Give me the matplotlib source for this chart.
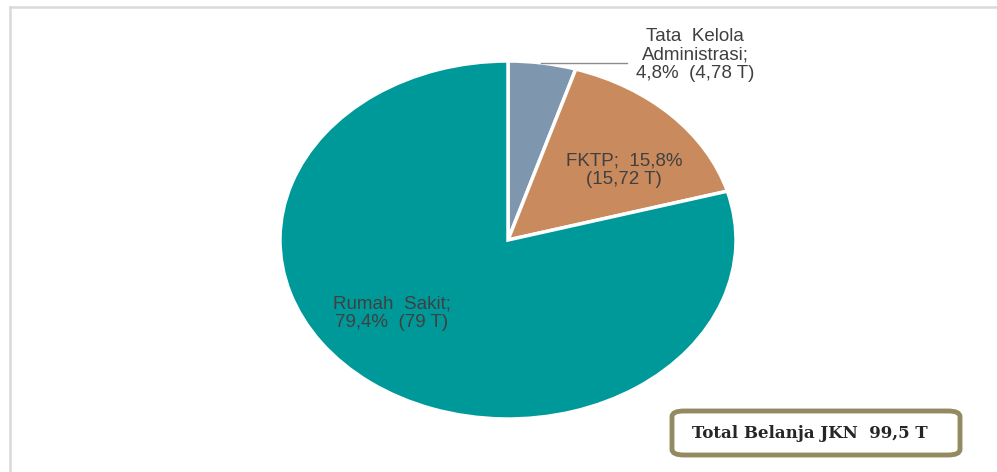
import matplotlib.pyplot as plt
from matplotlib.patches import FancyBboxPatch
from matplotlib.lines import Line2D

# Belanja JKN per kategori (triliun)
categories = ['Tata  Kelola\nAdministrasi;', 'FKTP;', 'Rumah  Sakit;']
values = [4.78, 15.72, 79.0]
pct_labels = ['4,8%', '15,8%', '79,4%']
value_labels = ['4,78 T', '15,72 T', '79 T']
total_label = 'Total Belanja JKN  99,5 T'
colors = ['#7F97AE', '#C98B5E', '#009999']

W, H = 997, 472
fig = plt.figure(figsize=(W / 100, H / 100), dpi=100)
fig.patch.set_facecolor('white')

# outer frame (top and left edges only)
fig.add_artist(Line2D([10 / W, 1], [1 - 7 / H, 1 - 7 / H], color='#D9D9D9', lw=1.8))
fig.add_artist(Line2D([10 / W, 10 / W], [0, 1 - 7 / H], color='#D9D9D9', lw=1.8))

# pie is stretched horizontally, so place the axes exactly and use auto aspect
cx, cy, rx, ry = 508, 240, 228, 179
ax = fig.add_axes([(cx - rx) / W, (H - cy - ry) / H, 2 * rx / W, 2 * ry / H])
ax.pie(values, colors=colors, startangle=90, counterclock=False,
       wedgeprops=dict(edgecolor='white', linewidth=2.5))
ax.set_aspect('auto')
ax.set_xlim(-1, 1)
ax.set_ylim(-1, 1)
ax.axis('off')

txt = dict(fontsize=13.5, color='#404040', family='Liberation Sans',
           ha='center', va='center', linespacing=1.12)

# Tata Kelola label outside with leader line
ax.text(0.82, 1.035, categories[0] + '\n' + pct_labels[0] + '  (' + value_labels[0] + ')',
        clip_on=False, **txt)
ax.plot([0.145, 0.52], [0.99, 0.99], color='#8C8C8C', lw=1, clip_on=False)

# FKTP label
ax.text(0.51, 0.39, categories[1] + '  ' + pct_labels[1] + '\n(' + value_labels[1] + ')', **txt)

# Rumah Sakit label
ax.text(-0.51, -0.41, categories[2] + '\n' + pct_labels[2] + '  (' + value_labels[2] + ')', **txt)

# total box
box = FancyBboxPatch((672 / W, 1 - 455 / H), 288 / W, 44 / H,
                     boxstyle='round,pad=0,rounding_size=0.012',
                     transform=fig.transFigure, facecolor='white',
                     edgecolor='#948A62', linewidth=3.5)
fig.add_artist(box)
fig.text(810 / W, 1 - 433 / H, total_label, fontsize=12, fontweight='bold',
         family='DejaVu Serif', color='#262626', ha='center', va='center')

fig.savefig('out.png', dpi=100)
